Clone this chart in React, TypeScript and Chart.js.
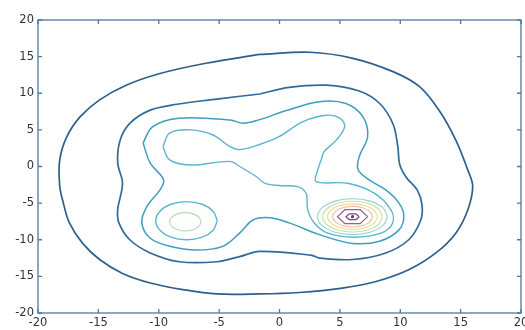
import React, { useEffect, useRef } from 'react';
import { Chart, registerables } from 'chart.js';

Chart.register(...registerables);

type P = [number, number];

// axis ticks
const xTickValues = [-20, -15, -10, -5, 0, 5, 10, 15, 20];
const yTickValues = [-20, -15, -10, -5, 0, 5, 10, 15, 20];

// contour lines (x, y)
const contour1: P[] = [
  [-1.65, 15.3], [2.5, 15.6], [6.0, 14.8], [9.4, 12.95], [11.6, 10.9], [13.2, 7.7], [14.6, 3.6],
  [15.6, -0.5], [16.0, -2.7], [15.6, -5.9], [14.6, -9.1], [12.95, -11.8], [10.7, -14.1], [8.0, -15.7],
  [5.2, -16.6], [1.65, -17.2], [-1.65, -17.4], [-5.2, -17.4], [-8.0, -16.8], [-10.7, -15.9],
  [-13.0, -14.6], [-14.9, -12.7], [-16.3, -10.5], [-17.4, -7.7], [-17.9, -5.0], [-18.2, -2.7],
  [-18.2, 0.9], [-17.6, 4.1], [-16.5, 6.8], [-14.9, 9.1], [-12.7, 11.1], [-9.9, 12.7], [-6.1, 14.1],
  [-1.65, 15.3],
];

const contour2: P[] = [
  [-1.65, 9.9], [0.8, 10.8], [3.9, 11.1], [6.6, 10.3], [8.3, 8.6], [9.4, 5.8], [9.8, 2.7], [9.95, 0.3],
  [10.5, -1.5], [11.4, -3.2], [11.8, -5.2], [11.7, -7.3], [10.7, -10.0], [8.8, -11.8], [6.05, -12.7], [3.3, -12.5],
  [2.6, -12.1], [-1.65, -11.6], [-3.3, -12.3], [-5.2, -13.0], [-8.3, -13.0], [-10.7, -11.8],
  [-12.4, -10.0], [-13.3, -7.7], [-13.4, -5.9], [-13.0, -2.3], [-13.4, 0.5], [-13.2, 3.6],
  [-12.4, 5.9], [-10.7, 7.7], [-8.5, 8.5], [-5.2, 9.2], [-1.65, 9.9],
];

const contour3: P[] = [
  [-11.3, 3.2], [-10.5, 5.45], [-8.3, 6.6], [-4.1, 6.35], [-3.0, 5.9], [-1.65, 6.4], [0.5, 7.6],
  [3.3, 8.85], [5.5, 8.6], [6.9, 6.8], [7.3, 4.1], [6.6, 1.35], [6.5, -0.4], [7.4, -1.8], [8.8, -3.2],
  [9.9, -5.0], [10.3, -6.8], [9.9, -8.65], [8.3, -10.2], [6.05, -10.5], [3.3, -9.3], [0.8, -7.7],
  [-0.8, -7.0], [-2.2, -7.3], [-3.3, -9.1], [-4.7, -10.9], [-6.9, -11.4], [-9.1, -10.9],
  [-10.7, -9.8], [-11.4, -7.7], [-11.0, -5.5], [-9.9, -3.2], [-9.6, -1.8], [-10.7, 0.45],
  [-11.3, 3.2],
];

const contour4: P[] = [
  [-9.65, 2.7], [-9.1, 4.55], [-7.4, 5.0], [-5.5, 4.3], [-4.1, 2.7], [-3.3, 2.3], [-1.65, 3.0],
  [0.0, 4.1], [1.9, 6.1], [3.9, 7.0], [5.0, 6.6], [5.4, 5.45], [4.7, 3.6], [3.7, 2.05], [3.45, 0.9],
  [3.17, -0.46], [3.03, -2.06], [5.65, -2.28], [7.85, -3.64], [9.23, -5.92], [9.36, -7.74],
  [8.4, -9.1], [6.2, -9.65], [4.0, -9.1], [2.9, -7.74], [2.34, -5.92], [2.2, -3.64], [1.5, -2.74],
  [0.0, -2.6], [-1.24, -2.28], [-1.9, -1.4], [-3.3, 0.0], [-4.1, 0.7], [-7.4, 0.2], [-9.1, 0.9],
  [-9.65, 2.7],
];

const leftPeakOuter: P[] = [
  [-5.15, -7.4], [-5.5, -6.1], [-6.4, -5.15], [-7.7, -4.8], [-9.0, -5.15], [-9.9, -6.1],
  [-10.25, -7.4], [-9.9, -8.7], [-9.0, -9.65], [-7.7, -10.0], [-6.4, -9.65], [-5.5, -8.7], [-5.15, -7.4],
];

const leftPeakInner: P[] = [
  [-6.5, -7.55], [-6.67, -6.93], [-7.15, -6.47], [-7.8, -6.3], [-8.45, -6.47], [-8.93, -6.93],
  [-9.1, -7.55], [-8.93, -8.17], [-8.45, -8.63], [-7.8, -8.8], [-7.15, -8.63], [-6.67, -8.17], [-6.5, -7.55],
];

const rightRing5: P[] = [
  [8.95, -6.85], [8.56, -5.625], [7.5, -4.73], [6.05, -4.4], [4.6, -4.73], [3.54, -5.625], [3.15, -6.85],
  [3.54, -8.075], [4.6, -8.97], [6.05, -9.3], [7.5, -8.97], [8.56, -8.075], [8.95, -6.85],
];

const rightRing6: P[] = [
  [8.53, -6.85], [8.2, -5.8], [7.29, -5.03], [6.05, -4.75], [4.81, -5.03], [3.9, -5.8], [3.57, -6.85],
  [3.9, -7.9], [4.81, -8.67], [6.05, -8.95], [7.29, -8.67], [8.2, -7.9], [8.53, -6.85],
];

const rightRing7: P[] = [
  [8.12, -6.85], [7.84, -5.975], [7.085, -5.335], [6.05, -5.1], [5.015, -5.335], [4.26, -5.975],
  [3.98, -6.85], [4.26, -7.725], [5.015, -8.365], [6.05, -8.6], [7.085, -8.365], [7.84, -7.725], [8.12, -6.85],
];

const rightRing8: P[] = [
  [7.7, -6.85], [7.48, -6.15], [6.875, -5.64], [6.05, -5.45], [5.225, -5.64], [4.62, -6.15], [4.4, -6.85],
  [4.62, -7.55], [5.225, -8.06], [6.05, -8.25], [6.875, -8.06], [7.48, -7.55], [7.7, -6.85],
];

const rightRing9: P[] = [
  [7.3, -6.85], [6.68, -5.9], [5.42, -5.9], [4.8, -6.85], [5.42, -7.8], [6.68, -7.8], [7.3, -6.85],
];

const rightRing10: P[] = [
  [6.6, -6.85], [6.33, -6.46], [5.78, -6.46], [5.5, -6.85], [5.78, -7.24], [6.33, -7.24], [6.6, -6.85],
];

const peakCenter: P[] = [[6.05, -6.85]];

const lines: { pts: P[]; color: string; width: number; tension: number }[] = [
  { pts: contour1, color: '#2c5f8e', width: 1.7, tension: 0.35 },
  { pts: contour2, color: '#2f6a99', width: 1.7, tension: 0.35 },
  { pts: contour3, color: '#3f9dbf', width: 1.5, tension: 0.35 },
  { pts: contour4, color: '#5ab6cf', width: 1.4, tension: 0.35 },
  { pts: leftPeakOuter, color: '#5ab6cf', width: 1.4, tension: 0.4 },
  { pts: leftPeakInner, color: '#b4dcb4', width: 1.2, tension: 0.4 },
  { pts: rightRing5, color: '#92d2d2', width: 1.1, tension: 0.4 },
  { pts: rightRing6, color: '#c4e2a4', width: 1.1, tension: 0.4 },
  { pts: rightRing7, color: '#ecdc92', width: 1.1, tension: 0.4 },
  { pts: rightRing8, color: '#eebc9c', width: 1.1, tension: 0.4 },
  { pts: rightRing9, color: '#9a5e88', width: 1.2, tension: 0 },
  { pts: rightRing10, color: '#7a4a78', width: 1.2, tension: 0 },
];

const framePlugin = {
  id: 'matlabFrame',
  afterDatasetsDraw(chart: any) {
    const { ctx, chartArea: a, scales } = chart;
    ctx.save();
    ctx.strokeStyle = '#52789a';
    ctx.lineWidth = 1.3;
    ctx.strokeRect(a.left, a.top, a.right - a.left, a.bottom - a.top);
    const len = 4;
    ctx.beginPath();
    for (const v of xTickValues) {
      const px = scales.x.getPixelForValue(v);
      ctx.moveTo(px, a.bottom);
      ctx.lineTo(px, a.bottom - len);
      ctx.moveTo(px, a.top);
      ctx.lineTo(px, a.top + len);
    }
    for (const v of yTickValues) {
      const py = scales.y.getPixelForValue(v);
      ctx.moveTo(a.left, py);
      ctx.lineTo(a.left + len, py);
      ctx.moveTo(a.right, py);
      ctx.lineTo(a.right - len, py);
    }
    ctx.stroke();
    ctx.restore();
  },
};

export default function App() {
  const ref = useRef<HTMLCanvasElement | null>(null);

  useEffect(() => {
    if (!ref.current) return;
    const datasets: any[] = lines.map((l) => ({
      data: l.pts.map(([x, y]) => ({ x, y })),
      showLine: true,
      borderColor: l.color,
      borderWidth: l.width,
      pointRadius: 0,
      fill: false,
      tension: l.tension,
    }));
    datasets.push({
      data: peakCenter.map(([x, y]) => ({ x, y })),
      showLine: false,
      pointRadius: 1.6,
      pointBackgroundColor: '#6a3c68',
      pointBorderWidth: 0,
    });
    const font = { family: '"DejaVu Sans", Verdana, sans-serif', size: 11.5 };
    const chart = new Chart(ref.current, {
      type: 'scatter',
      data: { datasets },
      options: {
        animation: false,
        responsive: false,
        devicePixelRatio: 1,
        layout: { padding: { top: 20, right: 3, left: 0, bottom: 0 } },
        plugins: { legend: { display: false }, tooltip: { enabled: false } },
        scales: {
          x: {
            type: 'linear',
            min: -20,
            max: 20,
            afterBuildTicks: (axis: any) => {
              axis.ticks = xTickValues.map((v) => ({ value: v }));
            },
            ticks: { font, color: '#2b3440', padding: 3, maxRotation: 0, autoSkip: false },
            grid: { display: false, drawTicks: false },
            border: { display: false },
            afterFit: (axis: any) => {
              axis.height = 17;
              axis.paddingLeft = 0;
              axis.paddingRight = 0;
            },
          },
          y: {
            type: 'linear',
            min: -20,
            max: 20,
            afterBuildTicks: (axis: any) => {
              axis.ticks = yTickValues.map((v) => ({ value: v }));
            },
            ticks: { font, color: '#2b3440', padding: 4, autoSkip: false },
            grid: { display: false, drawTicks: false },
            border: { display: false },
            afterFit: (axis: any) => {
              axis.width = 38;
              axis.paddingTop = 0;
              axis.paddingBottom = 0;
            },
          },
        },
      },
      plugins: [framePlugin],
    } as any);
    return () => chart.destroy();
  }, []);

  return (
    <div style={{ position: 'fixed', left: 0, top: 0, width: 525, height: 330, background: '#fff' }}>
      <canvas ref={ref} width={525} height={330} style={{ display: 'block' }} />
    </div>
  );
}
